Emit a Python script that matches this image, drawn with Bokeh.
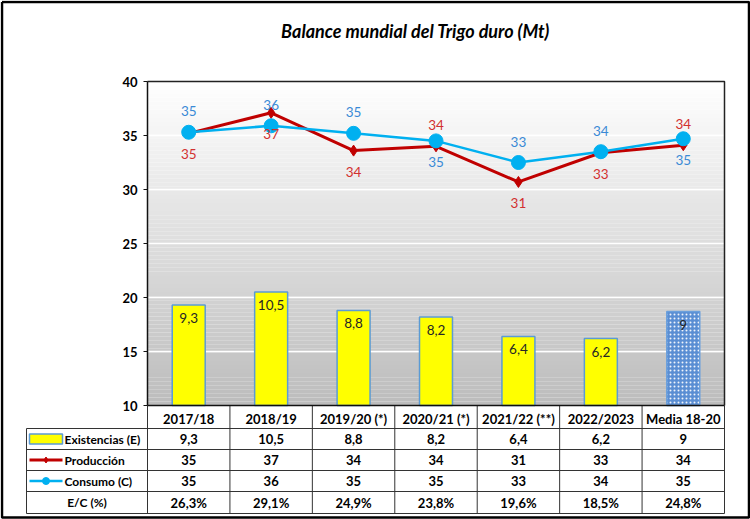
from bokeh.plotting import figure
from bokeh.models import Range1d, LinearAxis, FixedTicker, ColumnDataSource
from bokeh.core.properties import value
from bokeh.embed import file_html
from bokeh.resources import INLINE

# ---------------- data ----------------
categories = ["2017/18", "2018/19", "2019/20 (*)", "2020/21 (*)", "2021/22 (**)", "2022/2023", "Media 18-20"]
existencias = [9.3, 10.5, 8.8, 8.2, 6.4, 6.2, 8.7]
existencias_txt = ["9,3", "10,5", "8,8", "8,2", "6,4", "6,2", "9"]
produccion = [35.2, 37.1, 33.6, 34.0, 30.7, 33.4, 34.1]
produccion_txt = ["35", "37", "34", "34", "31", "33", "34"]
consumo = [35.3, 35.9, 35.2, 34.5, 32.5, 33.5, 34.7]
consumo_txt = ["35", "36", "35", "35", "33", "34", "35"]
ec_txt = ["26,3%", "29,1%", "24,9%", "23,8%", "19,6%", "18,5%", "24,8%"]
y_ticks = [10, 15, 20, 25, 30, 35, 40]
row_labels = ["Existencias (E)", "Producción", "Consumo (C)", "E/C (%)"]
title_text = "Balance mundial del Trigo duro (Mt)"

# label placement (style): +1 above the point, -1 below
prod_side = [-1, -1, -1, 1, -1, -1, 1]
cons_side = [1, 1, 1, -1, 1, 1, -1]

# ---------------- layout (pixels inside the figure) ----------------
W, H = 750, 519
FX0, FX1 = 147, 724        # plot-area left / right
FY_TOP, FY_BOT = 81, 405   # pixel of y=40 and y=10
n = len(categories)
x_per = (FX1 - FX0) / n
x_start = -FX0 / x_per
x_end = n + (W - FX1) / x_per
y_lo, y_hi = y_ticks[0], y_ticks[-1]
y_per = (FY_BOT - FY_TOP) / (y_hi - y_lo)
y_start = y_lo - (H - FY_BOT) / y_per
y_end = y_hi + FY_TOP / y_per

def px2x(px):
    return (px - FX0) / x_per

FONT = "Lato"

p = figure(width=W, height=H, output_backend="svg", toolbar_location=None,
           x_axis_type=None, y_axis_type=None, title=None,
           x_range=Range1d(x_start, x_end), y_range=Range1d(y_start, y_end),
           min_border=0, min_border_left=0, min_border_right=0,
           min_border_top=0, min_border_bottom=0)
p.extra_y_ranges = {"stock": Range1d(y_start - y_lo, y_end - y_lo),
                    "px": Range1d(H, 0)}
p.extra_x_ranges = {"px": Range1d(0, W)}
p.background_fill_color = "white"
p.border_fill_color = "white"
p.outline_line_color = None

xs = [i + 0.5 for i in range(n)]

# outer frame of the picture
p.line(x=[1.5, W - 1.5, W - 1.5, 1.5, 1.5], y=[1.5, 1.5, H - 2, H - 2, 1.5],
       x_range_name="px", y_range_name="px", line_color="black", line_width=2.5)

# gradient background of plot area (style bands)
nb = 80
band_b, band_t, band_c = [], [], []
for k in range(nb):
    b = y_lo + (y_hi - y_lo) * k / nb
    t = y_lo + (y_hi - y_lo) * (k + 1) / nb
    f = (k + 0.5) / nb          # 0 bottom -> 1 top
    g = int(round(0xbc + (0xff - 0xbc) * f))
    band_b.append(b); band_t.append(t); band_c.append("#%02x%02x%02x" % (g, g, g))
p.quad(left=0, right=n, bottom=band_b, top=band_t, fill_color=band_c, line_color=None)

# gridlines
grid_y = y_ticks[1:-1]
p.segment(x0=0, x1=n, y0=grid_y, y1=grid_y, line_color="white", line_width=1.5)

# plot-area border (top/right)
p.line(x=[0, n, n], y=[y_hi, y_hi, y_lo], line_color="#222222", line_width=1.5)

# bars
src_bar = ColumnDataSource(dict(x=xs[:-1], top=existencias[:-1]))
p.vbar(x="x", width=0.4, bottom=0, top="top", source=src_bar, y_range_name="stock",
       fill_color="#ffff00", line_color="#5b9bd5", line_width=1.5)
p.vbar(x=xs[-1:], width=0.4, bottom=0, top=existencias[-1:], y_range_name="stock",
       fill_color="#5a8ed3", line_color="#6a9fdc", line_width=1.5,
       hatch_pattern="dot", hatch_color="white", hatch_scale=4, hatch_weight=1.1, hatch_alpha=0.9)
p.text(x=xs, y=existencias, text=existencias_txt, y_range_name="stock",
       y_offset=13, text_align="center", text_baseline="middle",
       text_font=value(FONT), text_font_size="13.5px", text_color="#262626")

# lines
p.line(x=xs, y=produccion, line_color="#c00000", line_width=3)
p.scatter(x=xs, y=produccion, marker="diamond", size=11, fill_color="#c00000", line_color="#c00000")
p.line(x=xs, y=consumo, line_color="#00b0f0", line_width=2.5)
p.scatter(x=xs, y=consumo, marker="circle", size=14, fill_color="#00b0f0", line_color="#00b0f0")

p.text(x=xs, y=produccion, text=produccion_txt, y_offset=[-21 * s for s in prod_side],
       text_align="center", text_baseline="middle", text_font=value(FONT),
       text_font_size="13.5px", text_color="#d23030")
p.text(x=xs, y=consumo, text=consumo_txt, y_offset=[-21 * s for s in cons_side],
       text_align="center", text_baseline="middle", text_font=value(FONT),
       text_font_size="13.5px", text_color="#3a8ad6")

# y axis (fixed inside frame at x=0)
yaxis = LinearAxis(fixed_location=0, bounds=(y_lo, y_hi), ticker=FixedTicker(ticks=y_ticks),
                   axis_line_color="#111111", axis_line_width=1.5,
                   major_tick_in=0, major_tick_out=4, major_tick_line_color="#111111",
                   minor_tick_line_color=None, major_label_standoff=6,
                   major_label_text_font=FONT, major_label_text_font_style="bold",
                   major_label_text_font_size="13px", major_label_text_color="black")
p.add_layout(yaxis, "left")

# x axis at y=10 acting as header row of the table
xaxis = LinearAxis(fixed_location=y_lo, bounds=(0, n), ticker=FixedTicker(ticks=xs),
                   major_label_overrides={xs[i]: categories[i] for i in range(n)},
                   axis_line_color="#111111", axis_line_width=1.5,
                   major_tick_in=0, major_tick_out=0, minor_tick_line_color=None,
                   major_label_standoff=5,
                   major_label_text_font=FONT, major_label_text_font_style="bold",
                   major_label_text_font_size="13px", major_label_text_color="black")
p.add_layout(xaxis, "below")

# ---------------- table ----------------
row_edges = [FY_BOT, 428, 449, 470, 491, 513]   # pixel y of row borders
TL = 26                                         # table left pixel
tl_x = px2x(TL)
line_c = "#333333"
# horizontal lines
p.segment(x0=[tl_x] * 5, x1=[n] * 5, y0=row_edges[1:], y1=row_edges[1:],
          y_range_name="px", line_color=line_c, line_width=1)
# vertical lines
vx = list(range(0, n + 1))
p.segment(x0=vx, x1=vx, y0=[row_edges[0]] * len(vx), y1=[row_edges[-1]] * len(vx),
          y_range_name="px", line_color=line_c, line_width=1)
p.segment(x0=[tl_x], x1=[tl_x], y0=[row_edges[1]], y1=[row_edges[-1]],
          y_range_name="px", line_color=line_c, line_width=1)

row_c = [(row_edges[i + 1] + row_edges[i + 2]) / 2 for i in range(4)]
for vals, yc in zip([existencias_txt, produccion_txt, consumo_txt, ec_txt], row_c):
    p.text(x=xs, y=[yc] * n, text=vals, y_range_name="px", text_align="center",
           text_baseline="middle", text_font=value(FONT), text_font_style="bold",
           text_font_size="13px", text_color="black")

# legend keys
kx0, kx1 = px2x(29), px2x(62)
p.quad(left=[kx0], right=[kx1], top=[row_c[0] - 5], bottom=[row_c[0] + 5], y_range_name="px",
       fill_color="#ffff00", line_color="#5b9bd5", line_width=1.5)
p.line(x=[kx0, kx1], y=[row_c[1]] * 2, y_range_name="px", line_color="#c00000", line_width=3)
p.scatter(x=[(kx0 + kx1) / 2], y=[row_c[1]], y_range_name="px", marker="diamond", size=6,
          fill_color="#c00000", line_color="#c00000")
p.line(x=[kx0, kx1], y=[row_c[2]] * 2, y_range_name="px", line_color="#00b0f0", line_width=2.5)
p.scatter(x=[(kx0 + kx1) / 2], y=[row_c[2]], y_range_name="px", marker="circle", size=7,
          fill_color="#00b0f0", line_color="#00b0f0")
lab_x = px2x(64)
p.text(x=[lab_x] * 3, y=row_c[:3], text=row_labels[:3], y_range_name="px", text_align="left",
       text_baseline="middle", text_font=value(FONT), text_font_style="bold",
       text_font_size="12px", text_color="black")
p.text(x=[(tl_x + 0) / 2], y=[row_c[3]], text=row_labels[3:], y_range_name="px", text_align="center",
       text_baseline="middle", text_font=value(FONT), text_font_style="bold",
       text_font_size="12px", text_color="black")

# title
p.text(x=[px2x(415)], y=[30], text=[title_text], y_range_name="px", text_align="center",
       text_baseline="middle", text_font=value(FONT), text_font_style="bold italic",
       text_font_size="18px", text_color="black")

open("out.html", "w").write(file_html(p, INLINE))
